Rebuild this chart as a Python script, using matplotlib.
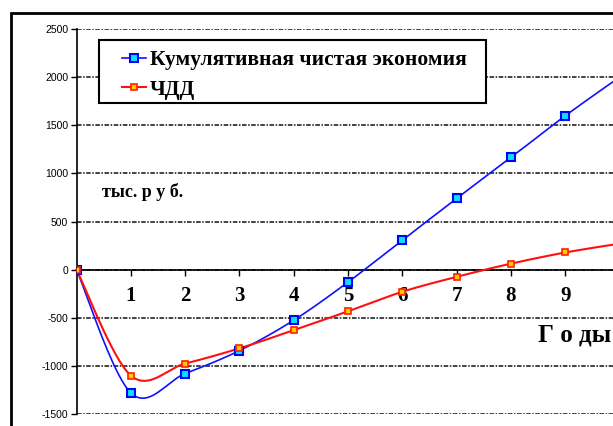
import numpy as np
import matplotlib
matplotlib.use("Agg")
import matplotlib.pyplot as plt
from matplotlib.patches import Rectangle

years = [0, 1, 2, 3, 4, 5, 6, 7, 8, 9, 10]
cumulative_savings = [0, -1280, -1080, -842, -526, -130, 306, 739, 1165, 1598, 2000]
npv = [0, -1100, -976, -818, -629, -433, -230, -75, 62, 178, 270]
series_names = ["Кумулятивная чистая экономия", "ЧДД"]
y_ticks = [-1500, -1000, -500, 0, 500, 1000, 1500, 2000, 2500]
x_ticks = [1, 2, 3, 4, 5, 6, 7, 8, 9]


def smooth(xs, ys, n=40):
    """Bezier smoothing through every point (tension 1/6 control points)."""
    xs = np.asarray(xs, float)
    ys = np.asarray(ys, float)
    px = np.concatenate([[xs[0]], xs, [xs[-1]]])
    py = np.concatenate([[ys[0]], ys, [ys[-1]]])
    out_x, out_y = [], []
    t = np.linspace(0, 1, n)
    for i in range(1, len(px) - 2):
        p0 = np.array([px[i], py[i]])
        p3 = np.array([px[i + 1], py[i + 1]])
        c1 = p0 + (np.array([px[i + 1], py[i + 1]]) - np.array([px[i - 1], py[i - 1]])) / 6
        c2 = p3 - (np.array([px[i + 2], py[i + 2]]) - np.array([px[i], py[i]])) / 6
        b = ((1 - t) ** 3)[:, None] * p0 + (3 * (1 - t) ** 2 * t)[:, None] * c1 \
            + (3 * (1 - t) * t ** 2)[:, None] * c2 + (t ** 3)[:, None] * p3
        out_x.extend(b[:, 0])
        out_y.extend(b[:, 1])
    return out_x, out_y


W, H = 613, 426
fig = plt.figure(figsize=(W / 100, H / 100), dpi=100)
fig.patch.set_facecolor("white")

# outer chart frame
fig.patches.append(Rectangle((11 / W, -0.2), 1.2, 1 - 13 / H + 0.2,
                             transform=fig.transFigure, fill=False,
                             edgecolor="black", linewidth=2, clip_on=False))

x0_px, x10_px = 76.5, 619.5
ytop_px, ybot_px = 29, 414
ax = fig.add_axes([x0_px / W, 1 - ybot_px / H, (x10_px - x0_px) / W, (ybot_px - ytop_px) / H])
ax.set_xlim(0, 10)
ax.set_ylim(-1500, 2500)
ax.patch.set_alpha(0)

for v in y_ticks:
    ax.axhline(v, color="#111111", linewidth=1.1, linestyle=(0, (3, 1, 1, 1)), zorder=1)

for s in ["top", "right"]:
    ax.spines[s].set_visible(False)
ax.spines["left"].set_linewidth(1.2)
ax.spines["bottom"].set_position(("data", 0))
ax.spines["bottom"].set_linewidth(1.2)
ax.spines["bottom"].set_zorder(2)

ax.set_yticks(y_ticks)
ax.set_yticklabels([str(v) for v in y_ticks], fontfamily="Liberation Sans", fontsize=7.5)
ax.tick_params(axis="y", direction="out", length=4, width=1, pad=2)
ax.set_xticks(x_ticks)
ax.set_xticklabels([str(v) for v in x_ticks], fontfamily="Liberation Serif",
                   fontweight="bold", fontsize=15)
ax.tick_params(axis="x", direction="out", length=4, width=1, pad=8)

bx, by = smooth(years, cumulative_savings)
rx, ry = smooth(years, npv)
ax.plot(bx, by, color="#1010ff", linewidth=1.2, zorder=3, clip_on=False)
ax.plot(rx, ry, color="#ff1010", linewidth=1.5, zorder=3, clip_on=False)
ax.plot(years, cumulative_savings, linestyle="none", marker="s", markersize=6,
        markerfacecolor="#00e5ff", markeredgecolor="#0000ff", markeredgewidth=1.5, zorder=4)
ax.plot(years, npv, linestyle="none", marker="s", markersize=5,
        markerfacecolor="#ffcc00", markeredgecolor="#ff2000", markeredgewidth=1.2, zorder=4)

h1, = ax.plot([], [], color="#1010ff", linewidth=1.2, marker="s", markersize=6,
              markerfacecolor="#00e5ff", markeredgecolor="#0000ff", markeredgewidth=1.5)
h2, = ax.plot([], [], color="#ff1010", linewidth=1.5, marker="s", markersize=5,
              markerfacecolor="#ffcc00", markeredgecolor="#ff2000", markeredgewidth=1.2)

# legend box drawn separately so its margins can be set freely
fig.patches.append(Rectangle((99 / W, 1 - 103 / H), (486 - 99) / W, 63 / H,
                             transform=fig.transFigure, facecolor="white",
                             edgecolor="black", linewidth=1.5, zorder=5))
leg = fig.legend([h1, h2], series_names, loc="upper left",
                 bbox_to_anchor=(122 / W, 1 - 50 / H), borderaxespad=0,
                 frameon=False, handlelength=1.1, handletextpad=0.2,
                 borderpad=0.0, labelspacing=0.45,
                 prop={"family": "Liberation Serif", "weight": "bold", "size": 15.5})
leg.set_zorder(6)

fig.text(102 / W, 1 - 192 / H, "тыс. р у б.", fontfamily="Liberation Serif",
         fontweight="bold", fontsize=13, va="center", ha="left")
fig.text(538 / W, 1 - 335 / H, "Г о ды", fontfamily="Liberation Serif",
         fontweight="bold", fontsize=18, va="center", ha="left")

fig.savefig("out.png", dpi=100)
